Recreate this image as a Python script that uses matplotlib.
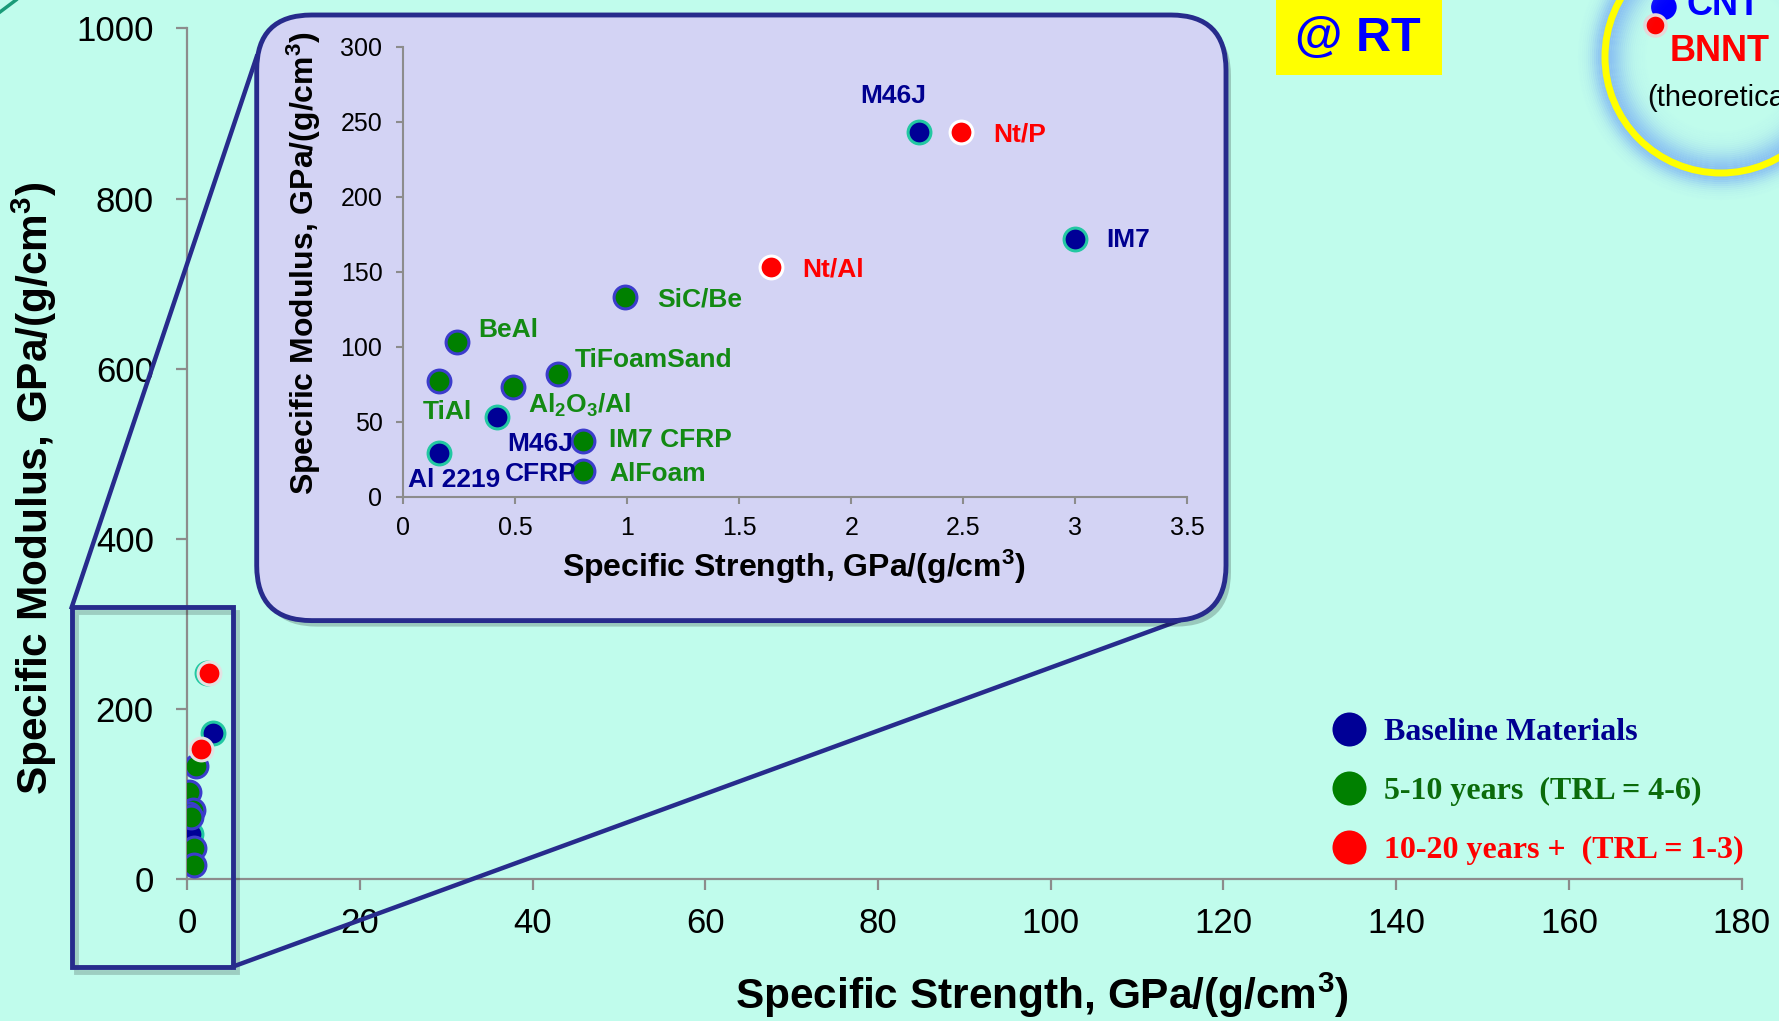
import numpy as np
import matplotlib.pyplot as plt
import matplotlib as mpl
from matplotlib.patches import FancyBboxPatch, Rectangle, Circle
from matplotlib.lines import Line2D
from matplotlib.transforms import IdentityTransform

mpl.rcParams.update({
    'font.family': ['Liberation Sans', 'DejaVu Sans'],
    'mathtext.fontset': 'custom',
    'mathtext.rm': 'Liberation Sans',
    'mathtext.bf': 'Liberation Sans:bold',
    'mathtext.it': 'Liberation Sans:italic',
})

# materials shown in the zoomed inset (and in the main plot)
names = ['M46J', 'IM7', 'M46J\nCFRP', 'Al 2219',
         'SiC/Be', 'BeAl', 'TiFoamSand', 'TiAl',
         r'Al$_\mathbf{2}$O$_\mathbf{3}$/Al', 'IM7 CFRP', 'AlFoam',
         'Nt/P', 'Nt/Al']
strength = [2.30, 3.00, 0.42, 0.16,
            0.99, 0.24, 0.69, 0.16, 0.49, 0.80, 0.80,
            2.49, 1.64]
modulus = [243, 172, 53, 29,
           133, 103, 82, 77, 73, 37, 17,
           243, 153]
group = ['base', 'base', 'base', 'base',
         'mid', 'mid', 'mid', 'mid', 'mid', 'mid', 'mid',
         'far', 'far']

# theoretical nanotubes
theory_names = ['CNT', 'BNNT']
theory_strength = [171, 170]
theory_modulus = [1025, 1004]

legend_labels = ['Baseline Materials', '5-10 years  (TRL = 4-6)',
                 '10-20 years +  (TRL = 1-3)']

# label offsets (points) and alignment for the inset annotations
label_offsets = [(-18, 26), (22, -1), (31, -30), (11, -19),
                 (23, -2), (15, 9), (12, 10), (6, -22),
                 (11, -13), (19, 1), (19, -2),
                 (23, -2), (23, -2)]
label_ha = ['center', 'left', 'center', 'center',
            'left', 'left', 'left', 'center', 'left', 'left', 'left',
            'left', 'left']

bg = '#C0FCEC'
navy_box = '#272B8C'
axis_grey = '#8C8C8C'
face = {'base': '#000096', 'mid': '#008000', 'far': '#FF0000'}
edge = {'base': '#22C8A2', 'mid': '#3C3CCC', 'far': '#FFFFFF'}
text_col = {'base': '#000090', 'mid': '#138A13', 'far': '#FF0000'}

W, H = 1779, 1021
fig = plt.figure(figsize=(W / 100, H / 100), dpi=100, facecolor=bg)


def disp(x, y):
    # picture pixel (from top) -> display coords
    return x, H - y


# ---------- main axes ----------
ax = fig.add_axes([187.2 / W, 1 - 879.3 / H, 1554.4 / W, 850.9 / H])
ax.set_facecolor('none')
ax.set_zorder(0)
strength = np.array(strength)
modulus = np.array(modulus)
group = np.array(group)
for g in ['base', 'mid', 'far']:
    m = group == g
    ec = '#E2E2E2' if g == 'far' else edge[g]
    ax.scatter(strength[m], modulus[m], s=270, c=face[g], edgecolors=ec,
               linewidths=2.2, zorder=3)
ax.scatter(theory_strength[:1], theory_modulus[:1], s=340, c='#0000FF',
           edgecolors='none', clip_on=False, zorder=3)
ax.scatter(theory_strength[1:], theory_modulus[1:], s=230, c='#FF0000',
           edgecolors='#E8D8D8', linewidths=2.5, clip_on=False, zorder=3)
ax.annotate(theory_names[0], (theory_strength[0], theory_modulus[0]),
            xytext=(16, -6), textcoords='offset points', ha='left',
            va='baseline', fontsize=26, fontweight='bold', color='#0000FF',
            annotation_clip=False)
ax.annotate(theory_names[1], (theory_strength[1], theory_modulus[1]),
            xytext=(10, -26), textcoords='offset points', ha='left',
            va='baseline', fontsize=26, fontweight='bold', color='#FF0000',
            annotation_clip=False)
ax.annotate('(theoretical)', (theory_strength[1], theory_modulus[1]),
            xytext=(-6, -58), textcoords='offset points', ha='left',
            va='baseline', fontsize=21, color='black',
            annotation_clip=False)

ax.set_xlim(0, 180)
ax.set_ylim(0, 1000)
ax.set_xticks(np.arange(0, 181, 20))
ax.set_yticks(np.arange(0, 1001, 200))
for s in ['top', 'right']:
    ax.spines[s].set_visible(False)
for s in ['left', 'bottom']:
    ax.spines[s].set_color(axis_grey)
    ax.spines[s].set_linewidth(1.6)
ax.tick_params(length=8, width=1.6, color=axis_grey, labelsize=25)
ax.tick_params(axis='x', pad=12)
ax.tick_params(axis='y', pad=16)
ax.set_xlabel(r'Specific Strength, GPa/(g/cm$^\mathbf{3}$)', fontsize=30.5,
              fontweight='bold')
ax.xaxis.set_label_coords((1042 - 187.2) / 1554.4, (879.3 - 995) / 850.9)
ax.xaxis.label.set_va('center')
ax.set_ylabel(r'Specific Modulus, GPa/(g/cm$^\mathbf{3}$)', fontsize=30.5,
              fontweight='bold')
ax.yaxis.set_label_coords((34 - 187.2) / 1554.4, (879.3 - 488) / 850.9)
ax.yaxis.label.set_va('center')

# legend
handles = [Line2D([], [], marker='o', ls='none', markersize=24.5,
                  markerfacecolor=face[g], markeredgecolor='none')
           for g in ['base', 'mid', 'far']]
leg = ax.legend(handles, legend_labels, loc='center left',
                bbox_to_anchor=(1333.7 / W, 1 - 791.5 / H),
                bbox_transform=fig.transFigure, frameon=False,
                prop={'family': 'Liberation Serif', 'weight': 'bold',
                      'size': 23},
                handlelength=0.96, handletextpad=0.62, labelspacing=0.93,
                borderpad=0, borderaxespad=0)
for t, g in zip(leg.get_texts(), ['base', 'mid', 'far']):
    t.set_color(text_col[g] if g != 'mid' else '#0B6B0B')

# ---------- decorations ----------
ident = IdentityTransform()
# zoom rectangle + connector lines
x0, y0 = disp(71.7, 966.7)
fig.patches.append(Rectangle((x0 + 4, y0 - 5), 161, 359.4, fill=False,
                             ec='#000000', lw=3.5, alpha=0.18,
                             transform=ident, zorder=1))
fig.patches.append(Rectangle((x0, y0), 161, 359.4, fill=False, ec=navy_box,
                             lw=3.5, transform=ident, zorder=1.2))
fig.lines.append(Line2D([71.7, 256.7], [H - 607.3, H - 56.7], color=navy_box,
                        lw=3.2, transform=ident, zorder=1.1))
fig.lines.append(Line2D([232.7, 1178], [H - 966.7, H - 621], color=navy_box,
                        lw=3.2, transform=ident, zorder=1.1))

# rounded inset panel
bx, by = disp(256.7, 620.6)
fig.patches.append(FancyBboxPatch((bx + 5, by - 6), 969.3, 605.6,
                                  boxstyle='round,pad=0,rounding_size=55',
                                  fc='#000000', ec='none', alpha=0.2,
                                  transform=ident, zorder=1.3))
fig.patches.append(FancyBboxPatch((bx, by), 969.3, 605.6,
                                  boxstyle='round,pad=0,rounding_size=55',
                                  fc='#D3D3F4', ec=navy_box, lw=3.5,
                                  transform=ident, zorder=1.4))

# @ RT tag
rx, ry = disp(1276, 75)
fig.patches.append(Rectangle((rx, ry), 165.7, 75, fc='#FFFF00', ec='none',
                             transform=ident, zorder=1.5))
fig.text(1357.5 / W, 1 - 38 / H, '@ RT', fontsize=35, fontweight='bold',
         color='#0000FF', ha='center', va='center', zorder=1.6)

# glowing circle around the nanotube points
cx, cy = disp(1721, 57)
for dr in range(-40, 28, 2):
    w = 13.0 if dr > 0 else 19.0
    a = np.exp(-(dr / w) ** 2)
    fig.patches.append(Circle((cx, cy), 116 + dr, fill=False, ec='#88C0F2',
                              lw=1.6, alpha=a, transform=ident, zorder=0.5))
fig.patches.append(Circle((cx, cy), 116, fill=False, ec='#FFFF00', lw=5,
                          transform=ident, zorder=0.6))
fig.lines.append(Line2D([0, 16], [H - 12, H], color='#1A9B78', lw=2.5,
                        transform=ident, zorder=0.6))

# ---------- inset axes ----------
ins = fig.add_axes([403.3 / W, 1 - 496.7 / H, 784 / W, 450 / H])
ins.set_zorder(2)
ins.set_facecolor('none')
for g in ['base', 'mid', 'far']:
    m = group == g
    ins.scatter(strength[m], modulus[m], s=270, c=face[g], edgecolors=edge[g],
                linewidths=2.2, zorder=3)
for i, name in enumerate(names):
    ins.annotate(name, (strength[i], modulus[i]), xytext=label_offsets[i],
                 textcoords='offset points', ha=label_ha[i], va='center',
                 fontsize=19, fontweight='bold', color=text_col[group[i]],
                 linespacing=1.3, multialignment='center')
ins.set_xlim(0, 3.5)
ins.set_ylim(0, 300)
ins.set_xticks(np.arange(0, 3.51, 0.5))
ins.set_xticklabels(['0', '0.5', '1', '1.5', '2', '2.5', '3', '3.5'])
ins.set_yticks(np.arange(0, 301, 50))
for s in ['top', 'right']:
    ins.spines[s].set_visible(False)
for s in ['left', 'bottom']:
    ins.spines[s].set_color(axis_grey)
    ins.spines[s].set_linewidth(1.5)
ins.tick_params(length=5, width=1.5, color=axis_grey, labelsize=18)
ins.tick_params(axis='x', pad=9)
ins.tick_params(axis='y', pad=10)
ins.set_xlabel(r'Specific Strength, GPa/(g/cm$^\mathbf{3}$)', fontsize=23,
               fontweight='bold')
ins.xaxis.set_label_coords(0.4986, (496.7 - 567.3) / 450)
ins.xaxis.label.set_va('center')
ins.set_ylabel(r'Specific Modulus, GPa/(g/cm$^\mathbf{3}$)', fontsize=23,
               fontweight='bold')
ins.yaxis.set_label_coords((304 - 403.3) / 784, (496.7 - 263.2) / 450)
ins.yaxis.label.set_va('center')

fig.savefig('out.png', dpi=100, facecolor=bg)
